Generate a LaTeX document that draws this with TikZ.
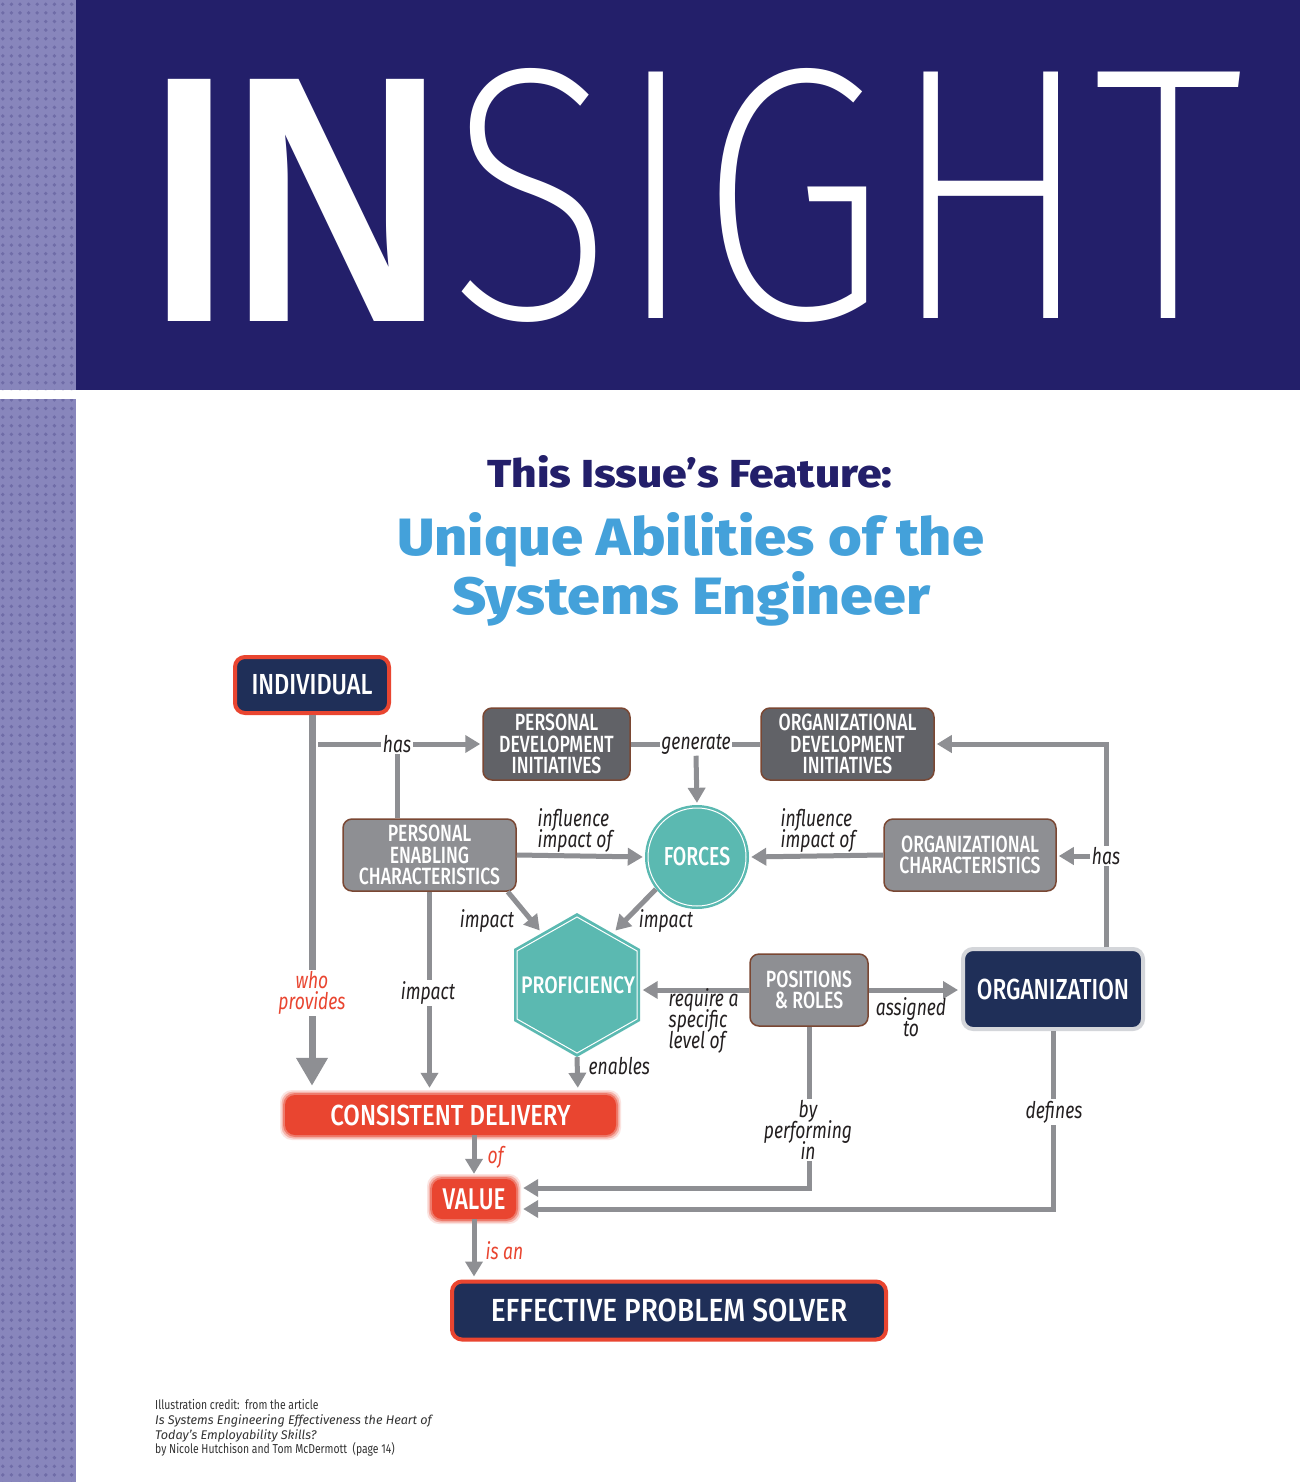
\documentclass[tikz,border=0pt]{standalone}
\usepackage{fontspec}
\usepackage{graphicx}
\usetikzlibrary{arrows.meta}
\newfontfamily\dia{Fira Sans}[FakeStretch=0.76]
\IfFontExistsTF{Fira Sans Medium}{\newfontfamily\diam{Fira Sans Medium}[FakeStretch=0.75]}{\newfontfamily\diam{Fira Sans}[FakeStretch=0.75]}
\IfFontExistsTF{Fira Sans ExtraLight}{\newfontfamily\thinf{Fira Sans ExtraLight}}{\newfontfamily\thinf{Liberation Sans}}
\IfFontExistsTF{Fira Sans Heavy}{\newfontfamily\heavyf{Fira Sans Heavy}}{\newfontfamily\heavyf{Liberation Sans Bold}}
\IfFontExistsTF{Fira Sans ExtraBold}{\newfontfamily\titlef{Fira Sans ExtraBold}}{\newfontfamily\titlef{Fira Sans Bold}}
\newfontfamily\credf{Fira Sans}[FakeStretch=0.8]
\newfontfamily\credi{Fira Sans}
\definecolor{bannavy}{HTML}{231F6A}
\definecolor{stripec}{HTML}{8886BC}
\definecolor{dotc}{HTML}{6F6CA7}
\definecolor{boxnavy}{HTML}{1F2F58}
\definecolor{accred}{HTML}{E94530}
\definecolor{dgray}{HTML}{616267}
\definecolor{lgray}{HTML}{8E8F93}
\definecolor{brownb}{HTML}{7A4733}
\definecolor{cgray}{HTML}{8E8F93}
\definecolor{tealc}{HTML}{5BB9B1}
\definecolor{orgb}{HTML}{D4D6DA}
\definecolor{titleblue}{HTML}{44A1DA}
\definecolor{labtxt}{HTML}{231F20}
\definecolor{credc}{HTML}{333333}
\begin{document}
\begin{tikzpicture}[x=1pt,y=-1pt,
  box/.style={rounded corners=9pt, align=center, text=white, inner sep=0pt,
    font=\diam\fontsize{23.5}{21.5}\selectfont, draw=brownb, line width=1.5pt},
  dbox/.style={box, fill=dgray},
  lbox/.style={box, fill=lgray},
  navbox/.style={rounded corners=10pt, align=center, text=white, inner sep=0pt,
    fill=boxnavy, draw=accred, line width=4pt, font=\diam\fontsize{29}{29}\selectfont},
  redbox/.style={rounded corners=10pt, align=center, text=white, inner sep=0pt,
    fill=accred, font=\diam\fontsize{29}{29}\selectfont},
  conn/.style={draw=cgray, line width=5pt},
  arr/.style={conn, -{Triangle[length=15pt,width=17pt]}, shorten >=2pt},
  lbl/.style={font=\dia\itshape\fontsize{23}{21}\selectfont, execute at begin node={\lineskiplimit=-50pt\relax},
    text=labtxt, inner sep=1.5pt, fill=white, align=center},
  rlbl/.style={lbl, text=accred}
]
\useasboundingbox (0,0) rectangle (1300,1482);
\fill[white] (0,0) rectangle (1300,1482);
% side stripe
\fill[stripec] (0,0) rectangle (75.5,390);
\fill[stripec] (0,399) rectangle (75.5,1482);
\begin{scope}
\clip (0,0) rectangle (75.5,390) (0,399) rectangle (75.5,1482);
\foreach \i in {0,...,8}{
  \foreach \j in {0,...,172}{
    \fill[dotc] (2.8+8.6*\i, 4.3+8.6*\j) circle (1.9pt);
  }
}
\end{scope}
% banner
\fill[bannavy] (76,0) rectangle (1300,390);
\node[anchor=south west, inner sep=0pt, text=white] (inw) at (148,322) {\resizebox{296pt}{242pt}{\heavyf IN}};
\node[anchor=south west, inner sep=0pt, text=white] (sight) at (448,323) {\resizebox{795pt}{250pt}{\thinf SIGHT}};
% titles
\node[anchor=base west, inner sep=0pt, text=bannavy] (t1) at (487,487) {\resizebox{405pt}{32pt}{\titlef This Issue’s Feature:}};
\node[anchor=base west, inner sep=0pt, text=titleblue] (t2) at (397,555) {\resizebox{587pt}{43pt}{\titlef Unique Abilities of the}};
\node[anchor=base west, inner sep=0pt, text=titleblue] (t3) at (452,614) {\resizebox{478pt}{43pt}{\titlef Systems Engineer}};

% ---------- nodes ----------
\node[navbox, minimum width=154pt, minimum height=56pt] (ind) at (312,685) {\scalebox{1.08}[1]{INDIVIDUAL}};
\node[dbox, minimum width=147pt, minimum height=72pt] (pdi) at (556.5,744) {PERSONAL\\DEVELOPMENT\\INITIATIVES};
\node[dbox, minimum width=173pt, minimum height=72pt] (odi) at (847.5,744) {ORGANIZATIONAL\\DEVELOPMENT\\INITIATIVES};
\node[lbox, minimum width=173pt, minimum height=72pt] (pec) at (429.5,855) {PERSONAL\\ENABLING\\CHARACTERISTICS};
\node[lbox, minimum width=172pt, minimum height=72pt] (oc) at (970,855) {ORGANIZATIONAL\\CHARACTERISTICS};
\node[lbox, minimum width=118pt, minimum height=72pt] (pr) at (809,990) {POSITIONS\\\& ROLES};
\node[navbox, draw=orgb, minimum width=180pt, minimum height=80pt] (org) at (1053,989) {\scalebox{1.04}[1]{ORGANIZATION}};
\node[circle, fill=tealc, minimum size=104pt, inner sep=0pt, text=white, font=\diam\fontsize{26}{26}\selectfont] (forces) at (697,857) {FORCES};
\draw[white, line width=1pt] (forces.center) circle (49pt);
\fill[tealc] (577,913) -- (640,949) -- (640,1021) -- (577,1057) -- (514,1021) -- (514,949) -- cycle;
\draw[white, line width=1pt] (577,917) -- (637,951) -- (637,1019) -- (577,1053) -- (517,1019) -- (517,951) -- cycle;
\node[minimum width=125pt, minimum height=144pt, inner sep=0pt, text=white, font=\diam\fontsize{24}{24}\selectfont] (prof) at (578,985) {\scalebox{1.08}[1]{PROFICIENCY}};
% glowing red boxes
\foreach \g/\o in {5/0.15,3.5/0.3,2/0.5}{
  \fill[accred, opacity=\o, rounded corners=12pt] (285-\g,1095-\g) rectangle (616+\g,1135+\g);
  \fill[accred, opacity=\o, rounded corners=12pt] (432-\g,1179-\g) rectangle (516+\g,1219+\g);
}
\node[redbox, minimum width=331pt, minimum height=40pt] (cd) at (450.5,1115) {\scalebox{1.1}[1]{CONSISTENT DELIVERY}};
\node[redbox, minimum width=84pt, minimum height=40pt, font=\diam\fontsize{30}{30}\selectfont] (val) at (474,1199) {VALUE};
\node[navbox, minimum width=434pt, minimum height=58pt, font=\diam\fontsize{32}{32}\selectfont] (eps) at (669,1310.5) {\scalebox{1.17}[1]{EFFECTIVE PROBLEM SOLVER}};

% ---------- connectors ----------
\draw[conn, line width=7pt, -{Triangle[length=28pt,width=30pt]}, shorten >=9pt] (ind.south) -- (ind.south |- cd.north);
\node[rlbl] (who) at (312,993) {who\\provides};

\coordinate (hasL) at (318,744);
\coordinate (hasJ) at (397,744);
\draw[arr] (hasL) -- (pdi.west);
\draw[conn] (hasJ) -- (hasJ |- pec.north);
\node[lbl] (has1) at (hasJ) {has};

\draw[conn] (pdi.east) -- (odi.west);
\node[lbl] (gen) at (696,744) {generate};
\draw[arr] (gen.south) -- (forces.north);

\draw[arr] (pec.east) -- (forces.west);
\node[lbl, fill=none, align=left, anchor=south west] (inf1) at (536,854) {influence\\impact of};
\draw[arr] (oc.west) -- (forces.east);
\node[lbl, fill=none, align=left, anchor=south west] (inf2) at (779,854) {influence\\impact of};

\coordinate (pUL) at (541,932);
\coordinate (pUR) at (614,932);
\draw[arr] ([xshift=-9pt]pec.south east) -- (pUL);
\draw[arr] (forces.218) -- (pUR);
\node[lbl, fill=none] (imp1) at (487,921) {impact};
\node[lbl, fill=none] (imp2) at (666,921) {impact};

\draw[arr, shorten >=7pt] (pec.south) -- (pec.south |- cd.north);
\node[lbl] (imp3) at (428,993) {impact};

\draw[arr, shorten >=7pt] (prof.south -| 577,0) -- (prof.south |- cd.north);
\node[lbl, fill=none, anchor=west] (ena) at (587,1066) {enables};

\draw[arr] (pr.west) -- (pr.west -| prof.east);
\node[lbl, fill=none, align=left, anchor=north west] (req) at (667,987) {require a\\specific\\level of};
\draw[arr, shorten >=3pt] (pr.east) -- (pr.east -| org.west);
\node[lbl, fill=none] (asg) at (911,1017) {assigned\\to};

\coordinate (rc) at (1106,744);
\draw[arr] (org.north -| rc) -- (rc) -- (odi.east);
\node[lbl] (has2) at (1106,856) {has};
\draw[arr] (has2.west) -- (has2.west -| oc.east);

\draw[arr, shorten >=7pt] (pr.south) |- ([yshift=11pt]val.east);
\node[lbl] (byp) at (808,1130) {by\\performing\\in};
\draw[arr, shorten >=7pt] (org.south) |- ([yshift=-10pt]val.east);
\node[lbl] (def) at (1054,1112) {defines};

\draw[arr, shorten >=5pt] (cd.south -| val.north) -- (val.north);
\node[rlbl, fill=none, anchor=west] (of) at (486,1157) {of};
\draw[arr, shorten >=3pt] (val.south) -- (val.south |- eps.north);
\node[rlbl, fill=none, anchor=west] (isan) at (484,1251) {is an};

% ---------- credits ----------
\node[anchor=base west, inner sep=0pt, text=credc, font=\credf\fontsize{13}{15}\selectfont] (c1) at (155,1409) {Illustration credit:\ \ from the article};
\node[anchor=base west, inner sep=0pt, text=credc, font=\credi\itshape\fontsize{12.6}{15}\selectfont] (c2) at (155,1424) {Is Systems Engineering Effectiveness the Heart of};
\node[anchor=base west, inner sep=0pt, text=credc, font=\credi\itshape\fontsize{12.6}{15}\selectfont] (c3) at (155,1439) {Today’s Employability Skills?};
\node[anchor=base west, inner sep=0pt, text=credc, font=\credf\fontsize{13}{15}\selectfont] (c4) at (155,1453) {by Nicole Hutchison and Tom McDermott\ \ (page 14)};
\end{tikzpicture}
\end{document}
